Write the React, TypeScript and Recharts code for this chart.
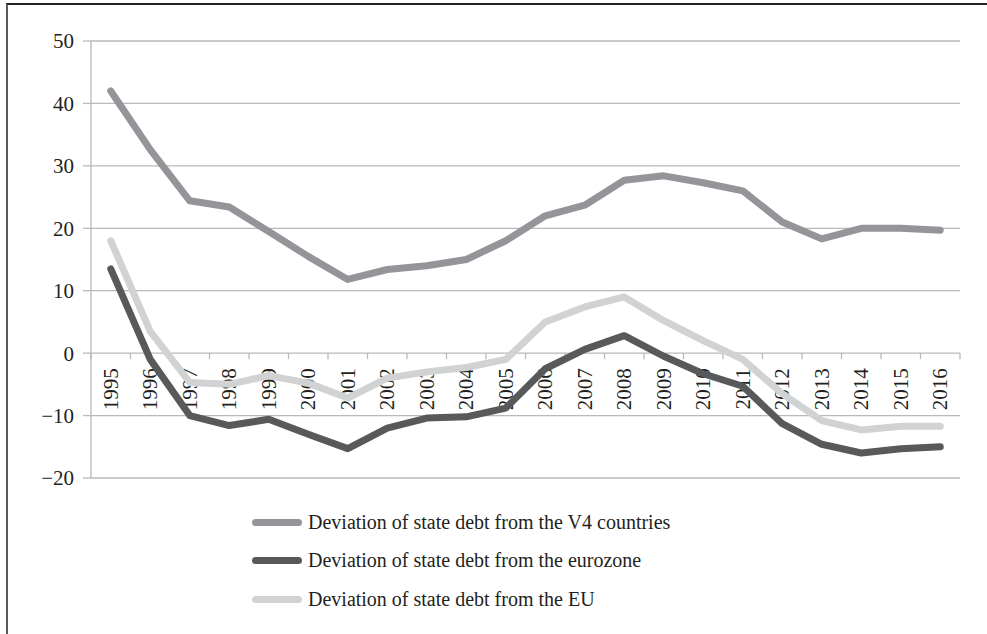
import React from 'react';
import { LineChart, Line, XAxis, YAxis, CartesianGrid } from 'recharts';

const years = [
  '1995', '1996', '1997', '1998', '1999', '2000', '2001', '2002', '2003', '2004', '2005',
  '2006', '2007', '2008', '2009', '2010', '2011', '2012', '2013', '2014', '2015', '2016',
];

const v4Values = [42, 32.6, 24.4, 23.4, 19.5, 15.5, 11.8, 13.4, 14.0, 15.0, 18.0, 22.0, 23.7, 27.7, 28.4, 27.3, 26.0, 21.0, 18.3, 20.0, 20.0, 19.7];
const eurozoneValues = [13.5, -1, -10, -11.6, -10.6, -13, -15.3, -12.0, -10.4, -10.2, -8.8, -2.5, 0.6, 2.8, -0.5, -3.3, -5.3, -11.3, -14.6, -16.0, -15.3, -15.0];
const euValues = [18.0, 3.5, -4.7, -5.0, -3.6, -4.8, -7.2, -4.0, -3.0, -2.3, -1.0, 5.0, 7.4, 9.0, 5.2, 2.0, -1.0, -6.5, -10.8, -12.3, -11.7, -11.7];

const yTicks = [-20, -10, 0, 10, 20, 30, 40, 50];

const series = [
  { key: 'v4', name: 'Deviation of state debt from the V4 countries', color: '#939598' },
  { key: 'eurozone', name: 'Deviation of state debt from the eurozone', color: '#58595b' },
  { key: 'eu', name: 'Deviation of state debt from the EU', color: '#d1d2d4' },
];

// drawing order: EU underneath, eurozone on top of it
const drawOrder = [series[2], series[1], series[0]];

const data = years.map((year, i) => ({
  year,
  v4: v4Values[i],
  eurozone: eurozoneValues[i],
  eu: euValues[i],
}));

const W = 987;
const H = 634;
const X_AXIS_H = 1;
const Y_AXIS_W = 91;
const AXIS_MARGIN = { top: 41, right: 27, bottom: 156 - X_AXIS_H, left: 0 };
const LINE_MARGIN = { top: 41, right: 27, bottom: 156, left: Y_AXIS_W };
const PLOT_W = W - AXIS_MARGIN.right - Y_AXIS_W;
const PLOT_H = H - AXIS_MARGIN.top - AXIS_MARGIN.bottom - X_AXIS_H;
const Y_MIN = -20;
const Y_MAX = 50;
const FONT = '"Liberation Serif", "Times New Roman", serif';
const TEXT = '#231f20';
const GRID = '#b9b9b9';

// category axis sits on the zero line, not at the bottom of the plot
const zeroShift = (PLOT_H * (0 - Y_MIN)) / (Y_MAX - Y_MIN);

const YearTick = (props: any) => {
  const { x, y, payload, index } = props;
  const bw = PLOT_W / years.length;
  const y0 = y - zeroShift;
  const ty = y0 + 15;
  return (
    <g>
      <line x1={x - bw / 2} y1={y0} x2={x - bw / 2} y2={y0 + 6} stroke={GRID} strokeWidth={1.3} />
      {index === years.length - 1 && (
        <line x1={x + bw / 2} y1={y0} x2={x + bw / 2} y2={y0 + 6} stroke={GRID} strokeWidth={1.3} />
      )}
      <text
        x={x}
        y={ty}
        transform={`rotate(-90, ${x}, ${ty})`}
        textAnchor="end"
        dominantBaseline="central"
        fontSize={21}
        fontFamily={FONT}
        fill={TEXT}
      >
        {payload.value}
      </text>
    </g>
  );
};

const fmt = (v: number) => (v < 0 ? '\u2212' + Math.abs(v) : String(v));

const seriesLines = (visible: boolean) =>
  drawOrder.map(s => (
    <Line
      key={s.key}
      dataKey={s.key}
      name={s.name}
      stroke={visible ? s.color : 'none'}
      strokeWidth={7}
      strokeLinecap="round"
      strokeLinejoin="round"
      dot={false}
      activeDot={false}
      isAnimationActive={false}
    />
  ));

export default function App() {
  return (
    <div style={{ position: 'absolute', left: 0, top: 0, width: W, height: H, overflow: 'hidden', background: '#fff' }}>
      <div
        style={{
          position: 'absolute',
          left: 6,
          top: 3,
          width: 1100,
          height: 800,
          borderTop: '2px solid #222',
          borderLeft: '2px solid #5a5a5a',
        }}
      />
      {/* grid and axes underneath */}
      <div style={{ position: 'absolute', left: 0, top: 0 }}>
        <LineChart width={W} height={H} data={data} margin={AXIS_MARGIN}>
          <CartesianGrid vertical={false} stroke={GRID} strokeWidth={1.3} />
          <XAxis
            dataKey="year"
            scale="band"
            height={X_AXIS_H}
            interval={0}
            axisLine={false}
            tickLine={false}
            tickSize={0}
            tickMargin={0}
            tick={<YearTick />}
          />
          <YAxis
            width={Y_AXIS_W}
            domain={[Y_MIN, Y_MAX]}
            ticks={yTicks}
            interval={0}
            tickFormatter={fmt}
            axisLine={{ stroke: GRID, strokeWidth: 1.3 }}
            tickLine={{ stroke: GRID, strokeWidth: 1.3 }}
            tickSize={8}
            tickMargin={9}
            tick={{ fontSize: 21, fontFamily: FONT, fill: TEXT }}
          />
          {seriesLines(false)}
        </LineChart>
      </div>
      {/* lines on top, so they pass over the year labels */}
      <div style={{ position: 'absolute', left: 0, top: 0 }}>
        <LineChart width={W} height={H} data={data} margin={LINE_MARGIN}>
          <XAxis dataKey="year" scale="band" hide />
          <YAxis domain={[Y_MIN, Y_MAX]} hide />
          {seriesLines(true)}
        </LineChart>
      </div>
      <div style={{ position: 'absolute', left: 252, top: 503 }}>
        {series.map(s => (
          <div key={s.key} style={{ display: 'flex', alignItems: 'center', height: 38.5 }}>
            <div style={{ width: 50, height: 7, borderRadius: 4, background: s.color }} />
            <span style={{ marginLeft: 6, fontSize: 20, fontFamily: FONT, color: TEXT, whiteSpace: 'nowrap' }}>
              {s.name}
            </span>
          </div>
        ))}
      </div>
    </div>
  );
}
